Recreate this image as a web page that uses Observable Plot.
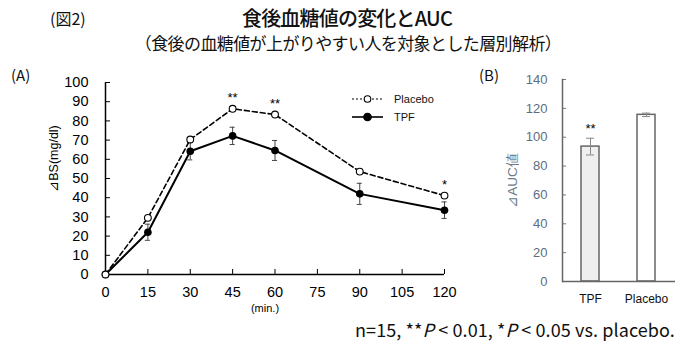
<!DOCTYPE html>
<html><head><meta charset="utf-8">
<script src="https://cdn.jsdelivr.net/npm/d3@7"></script>
<script src="https://cdn.jsdelivr.net/npm/@observablehq/plot@0.6"></script>
<style>
body{margin:0;background:#fff;}
#wrap{position:relative;width:700px;height:345px;overflow:hidden;background:#fff;font-family:"Noto Sans CJK JP","Noto Sans",sans-serif;color:#111;}
.abs{position:absolute;white-space:nowrap;}
#chartA,#chartB{position:absolute;top:60px;}
#chartA{left:0;} #chartB{left:460px;}
svg{overflow:visible;}
</style></head>
<body><div id="wrap">
<div class="abs" style="left:50px;top:6px;font-size:16px;">(図2)</div>
<div class="abs" style="left:0;width:694px;text-align:center;top:3px;font-size:20px;font-weight:500;letter-spacing:-0.8px;">食後血糖値の変化とAUC</div>
<div class="abs" style="left:0;width:696px;text-align:center;top:30px;font-size:17px;letter-spacing:-0.6px;">（食後の血糖値が上がりやすい人を対象とした層別解析）</div>
<div class="abs" style="left:11px;top:64px;font-size:15px;">(A)</div>
<div class="abs" style="left:479px;top:64px;font-size:15px;">(B)</div>
<div id="chartA"></div>
<div id="chartB"></div>
<div class="abs" id="legend" style="left:350px;top:90px;font-family:'Liberation Sans',Arial,sans-serif;font-size:11px;"></div>
<div class="abs" style="left:355px;top:316px;font-size:18px;letter-spacing:0.1px;">n=15, **<i>P</i> &lt; 0.01, *<i>P</i> &lt; 0.05 vs. placebo.</div>
</div>
<script>
// ---- Data (A) ----
const times = [0, 15, 30, 45, 60, 90, 120];
const placeboMean = [0, 29.5, 70.3, 86.3, 83.3, 53.6, 41.1];
const tpfMean = [0, 22.0, 64.2, 72.2, 64.6, 42.0, 33.5];
const tpfErr = [0, 4.2, 4.5, 4.5, 5.2, 5.5, 4.3];
const sigTimes = [45, 60, 120];
const sigLabels = ["**", "**", "*"];
const xTicksA = [0, 15, 30, 45, 60, 75, 90, 105, 120];
const yTicksA = [0, 10, 20, 30, 40, 50, 60, 70, 80, 90, 100];
const yLabelA = "⊿BS(mg/dl)";
const xLabelA = "(min.)";
const seriesNames = ["Placebo", "TPF"];

// ---- Data (B) ----
const groups = ["TPF", "Placebo"];
const aucMean = [93.5, 115.5];
const aucErr = [5.8, 1.2];
const aucSig = ["**", ""];
const yTicksB = [0, 20, 40, 60, 80, 100, 120, 140];
const yLabelB = "⊿AUC値";

const rows = times.map((t, i) => ({t, placebo: placeboMean[i], tpf: tpfMean[i], err: tpfErr[i]}));
const errRows = rows.filter(d => d.err > 0);
const sigRows = sigTimes.map((t, i) => ({t, label: sigLabels[i], y: placeboMean[times.indexOf(t)]}));

const fontA = "'Liberation Sans', Arial, sans-serif";

const chartA = Plot.plot({
  width: 460, height: 265,
  marginLeft: 105, marginRight: 16, marginTop: 22, marginBottom: 51,
  x: {domain: [0, 120]},
  y: {domain: [0, 100]},
  style: {fontFamily: fontA, fontSize: "14px", color: "#000", background: "transparent", overflow: "visible"},
  marks: [
    Plot.axisY({ticks: yTicksA, tickSize: -5, tickPadding: 22, label: null, fontSize: 14.5}),
    Plot.axisX({ticks: xTicksA, tickSize: -5, tickPadding: 17, label: null, fontSize: 14.5}),
    Plot.ruleY([0], {stroke: "#000", strokeWidth: 1.5}),
    Plot.ruleX([0], {stroke: "#000", strokeWidth: 1.5}),
    Plot.ruleX(errRows, {x: "t", y1: d => d.tpf - d.err, y2: d => d.tpf + d.err, stroke: "#444", strokeWidth: 1}),
    Plot.ruleY(errRows, {y: d => d.tpf + d.err, x1: d => d.t - 0.9, x2: d => d.t + 0.9, stroke: "#444", strokeWidth: 1}),
    Plot.ruleY(errRows, {y: d => d.tpf - d.err, x1: d => d.t - 0.9, x2: d => d.t + 0.9, stroke: "#444", strokeWidth: 1}),
    Plot.line(rows, {x: "t", y: "placebo", stroke: "#000", strokeWidth: 1.6, strokeDasharray: "5,3"}),
    Plot.line(rows, {x: "t", y: "tpf", stroke: "#000", strokeWidth: 2}),
    Plot.dot(rows, {x: "t", y: "tpf", r: 3.8, fill: "#000", stroke: "none"}),
    Plot.dot(rows, {x: "t", y: "placebo", r: 3.4, fill: "#fff", stroke: "#000", strokeWidth: 1.1}),
    Plot.text(sigRows, {x: "t", y: "y", text: "label", dy: -11, fontSize: 13, fill: "#000"}),
    Plot.text([yLabelA], {frameAnchor: "left", textAnchor: "middle", rotate: -90, dx: -52, dy: -20, fontSize: 12.5, fill: "#000"}),
    Plot.text([xLabelA], {frameAnchor: "bottom", dx: -10, dy: 37, fontSize: 11, fill: "#000"})
  ]
});
document.getElementById("chartA").appendChild(chartA);

const bars = groups.map((g, i) => ({g, v: aucMean[i], e: aucErr[i], s: aucSig[i]}));

const chartB = Plot.plot({
  width: 240, height: 265,
  marginLeft: 102, marginRight: 25, marginTop: 19, marginBottom: 44,
  x: {domain: groups, paddingInner: 0.675, paddingOuter: 0.33, align: 0.5},
  y: {domain: [0, 140]},
  style: {fontFamily: fontA, fontSize: "13px", color: "#000", background: "transparent", overflow: "visible"},
  marks: [
    Plot.barY(bars.filter(d => d.g === "TPF"), {x: "g", y: "v", fill: "#efefef", stroke: "#666", strokeWidth: 1.5}),
    Plot.barY(bars.filter(d => d.g !== "TPF"), {x: "g", y: "v", fill: "#fff", stroke: "#666", strokeWidth: 1.5}),
    Plot.axisY({ticks: yTicksB, tickSize: -4, stroke: "#777", tickFormat: () => "", label: null}),
    Plot.axisY({ticks: yTicksB, tickSize: 0, tickPadding: 15, color: "#5d6d7e", label: null, fontSize: 13}),
    Plot.axisX({tickSize: 0, tickPadding: 13, label: null, fontSize: 12, color: "#111"}),
    Plot.ruleY([0], {stroke: "#666", strokeWidth: 1.5}),
    Plot.frame({anchor: "left", stroke: "#666", strokeWidth: 1.5}),
    Plot.ruleX(bars, {x: "g", y1: d => d.v - d.e, y2: d => d.v + d.e, stroke: "#888"}),
    Plot.tickY(bars, {x: "g", y: d => d.v + d.e, stroke: "#888", insetLeft: 5, insetRight: 5}),
    Plot.tickY(bars, {x: "g", y: d => d.v - d.e, stroke: "#888", insetLeft: 5, insetRight: 5}),
    Plot.text(bars, {x: "g", y: d => d.v + d.e, text: "s", dy: -9, fontSize: 13, fill: "#000"}),
    Plot.text([yLabelB], {frameAnchor: "left", textAnchor: "middle", rotate: -90, dx: -50, fontSize: 13.5, fill: "#6a7a88"})
  ]
});
document.getElementById("chartB").appendChild(chartB);

// legend
const legend = document.getElementById("legend");
seriesNames.forEach((name, i) => {
  const dashed = name === "Placebo";
  const row = document.createElement("div");
  row.style.cssText = "display:flex;align-items:center;height:18px;";
  row.innerHTML = `<svg width="40" height="12" style="margin-right:4px"><line x1="2" y1="6" x2="33" y2="6" stroke="#000" stroke-width="${dashed ? 1.2 : 1.6}" ${dashed ? 'stroke-dasharray="2,2"' : ''}/><circle cx="17.5" cy="6" r="${dashed ? 3.3 : 3.8}" fill="${dashed ? '#fff' : '#000'}" stroke="#000" stroke-width="1.1"/></svg><span>${name}</span>`;
  legend.appendChild(row);
});
</script>
</body></html>
